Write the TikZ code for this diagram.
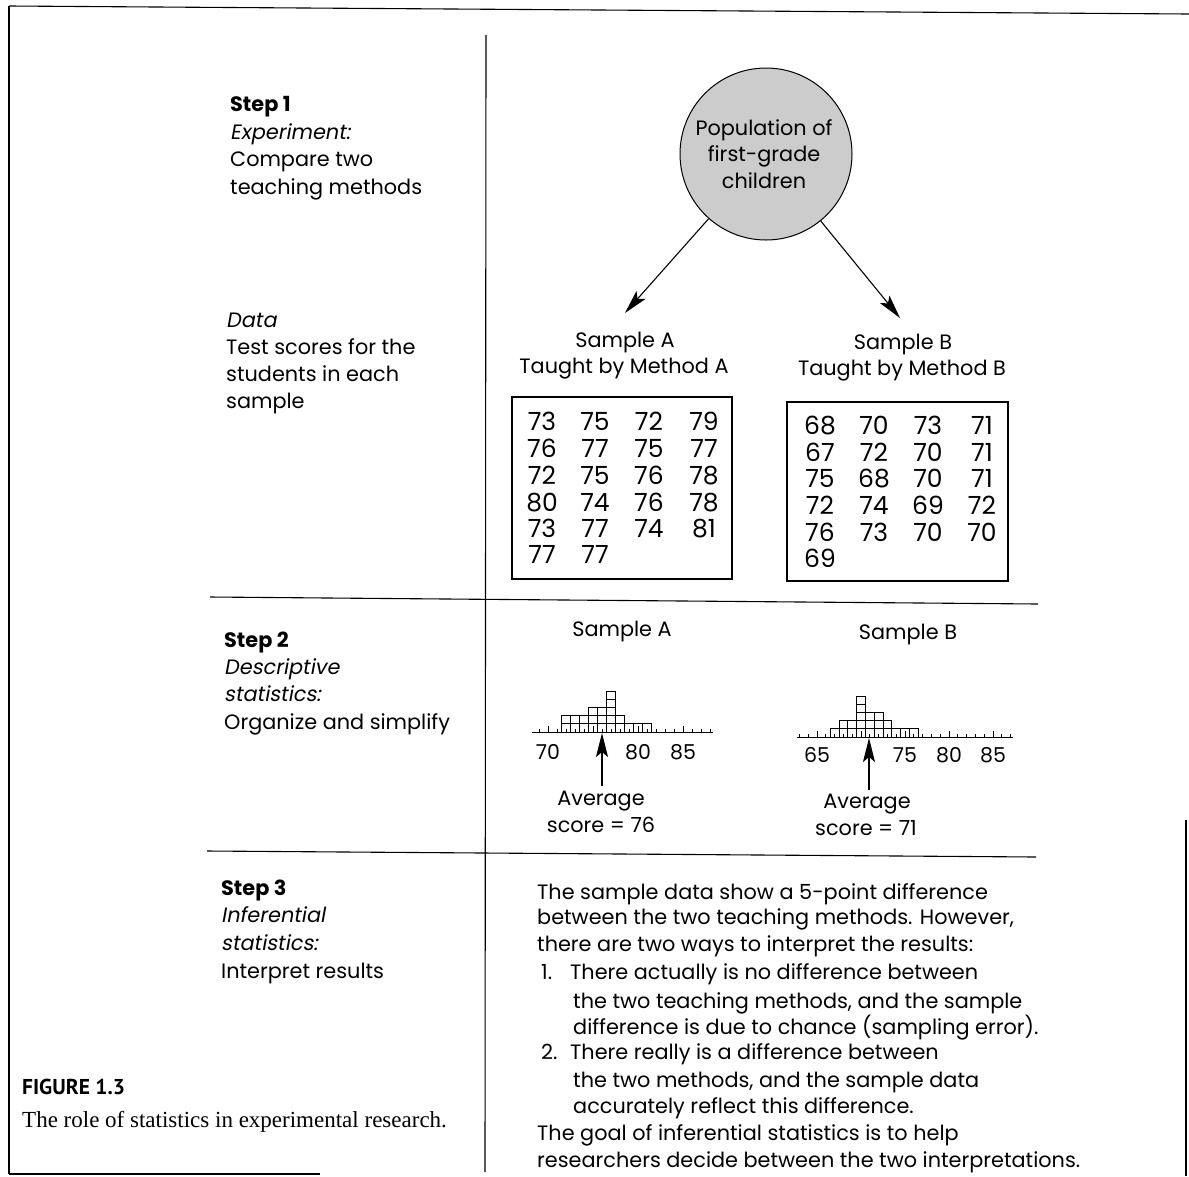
\documentclass[tikz,border=0pt]{standalone}
\usepackage{fontspec}
\setmainfont{Poppins}[ItalicFont=Poppins,ItalicFeatures={FakeSlant=0.18}]
\newfontfamily\capfont{PT Sans}
\newfontfamily\serfont{Liberation Serif}
\usetikzlibrary{arrows.meta}
\begin{document}
\begin{tikzpicture}[x=1pt,y=-1pt,
  txt/.style={anchor=base west,inner sep=0pt,font=\fontsize{20.8}{27}\selectfont},
  ctr/.style={anchor=base,inner sep=0pt,font=\fontsize{20.8}{27}\selectfont},
  num/.style={anchor=base,inner sep=0pt,font=\fontsize{25}{25}\selectfont},
  tick/.style={anchor=base,inner sep=0pt,font=\fontsize{20.5}{20}\selectfont},
  rule/.style={line width=1.1pt},
  hbox/.style={line width=0.8pt},
  arr/.style={line width=1.1pt,-{Stealth[length=24pt,width=12pt,inset=5pt]}}]
\useasboundingbox (0,0) rectangle (1189,1176);
% frame
\draw[rule] (9,6) -- (1189,14);
\draw[rule] (9,6) -- (9,1174);
\draw[rule] (9,1174) -- (320,1174);
\draw[rule] (1186,820) -- (1186,1176);
% dividers
\draw[rule] (486,35) -- (485,1172);
\draw[rule] (210,597) -- (1038,604);
\draw[rule] (207,851) -- (1036,857);
% left column
\node[txt] (s1) at (230,111) {\bfseries Step 1};
\node[txt] (s1a) at (230,139) {\itshape Experiment:};
\node[txt] (s1b) at (230,166) {Compare two};
\node[txt] (s1c) at (230,194) {teaching methods};
\node[txt] (d1) at (226,327) {\itshape Data};
\node[txt] (d2) at (226,354) {Test scores for the};
\node[txt] (d3) at (226,381) {students in each};
\node[txt] (d4) at (226,408) {sample};
\node[txt] (s2) at (224,647) {\bfseries Step 2};
\node[txt] (s2a) at (224,674) {\itshape Descriptive};
\node[txt] (s2b) at (224,701) {\itshape statistics:};
\node[txt] (s2c) at (224,729) {Organize and simplify};
\node[txt] (s3) at (221,895) {\bfseries Step 3};
\node[txt] (s3a) at (221,922) {\itshape Inferential};
\node[txt] (s3b) at (221,950) {\itshape statistics:};
\node[txt] (s3c) at (221,978) {Interpret results};
% population
\node[circle,draw,line width=1pt,fill=gray!40,minimum size=172pt,inner sep=0pt] (pop) at (766,154) {};
\node[ctr] (p1) at (764,135) {Population of};
\node[ctr] (p2) at (764,161) {first-grade};
\node[ctr] (p3) at (764,188) {children};
\coordinate (tipA) at (625,313);
\coordinate (tipB) at (900,318);
\draw[arr] (pop) -- (tipA);
\draw[arr] (pop) -- (tipB);
\node[ctr] (sa1) at (625,347) {Sample A};
\node[ctr] (sa2) at (624,373) {Taught by Method A};
\node[ctr] (sb1) at (903,349) {Sample B};
\node[ctr] (sb2) at (902,375) {Taught by Method B};
% data boxes
\draw[rule] (512,397) rectangle (732,579);
\draw[rule] (787,402) rectangle (1008,581);
\foreach \r/\y in {1/430,2/457,3/484,4/511,5/537,6/563}{
  \foreach \c/\x in {1/542,2/595,3/649,4/704}{
    \coordinate (a\r\c) at (\x,\y);
  }
}
\foreach \r/\y in {1/434,2/461,3/487,4/514,5/541,6/567}{
  \foreach \c/\x in {1/820,2/874,3/928,4/982}{
    \coordinate (b\r\c) at (\x,\y);
  }
}
\foreach \p/\t in {11/73,12/75,13/72,14/79,21/76,22/77,23/75,24/77,31/72,32/75,33/76,34/78,41/80,42/74,43/76,44/78,51/73,52/77,53/74,54/81,61/77,62/77}{
  \node[num] (na\p) at (a\p) {\t};
}
\foreach \p/\t in {11/68,12/70,13/73,14/71,21/67,22/72,23/70,24/71,31/75,32/68,33/70,34/71,41/72,42/74,43/69,44/72,51/76,52/73,53/70,54/70,61/69}{
  \node[num] (nb\p) at (b\p) {\t};
}
% histograms
\node[ctr] (ha) at (622,636) {Sample A};
\node[ctr] (hb) at (908,639) {Sample B};
\foreach \v/\n in {72/2,73/2,74/2,75/3,76/3,77/5,78/2,79/1,80/1,81/1}{
  \foreach \k in {1,...,\n}{
    \draw[hbox] ({548+(\v-70)*9-4.5},{732-(\k-1)*8.2}) rectangle ++(9,-8.2);
  }
}
\draw[hbox] (532,732) -- (713,732);
\foreach \v in {69,...,88}{
  \draw[hbox] ({548+(\v-70)*9},732) -- ++(0,-3);
}
\foreach \v in {70,75,80,85}{
  \draw[hbox] ({548+(\v-70)*9},732) -- ++(0,-6);
}
\node[tick] (ta1) at (548,759) {70};
\node[tick] (ta2) at (638,759) {80};
\node[tick] (ta3) at (683,759) {85};
\foreach \v/\n in {67/1,68/2,69/2,70/5,71/3,72/3,73/2,74/1,75/1,76/1}{
  \foreach \k in {1,...,\n}{
    \draw[hbox] ({817+(\v-65)*8.8-4.4},{737-(\k-1)*8.2}) rectangle ++(8.8,-8.2);
  }
}
\draw[hbox] (797,737) -- (1013,737);
\foreach \v in {63,...,87}{
  \draw[hbox] ({817+(\v-65)*8.8},737) -- ++(0,-3);
}
\foreach \v in {65,70,75,80,85}{
  \draw[hbox] ({817+(\v-65)*8.8},737) -- ++(0,-6);
}
\node[tick] (tb1) at (817,762) {65};
\node[tick] (tb2) at (905,762) {75};
\node[tick] (tb3) at (949,762) {80};
\node[tick] (tb4) at (993,762) {85};
\coordinate (avA0) at (602,786);
\coordinate (avA1) at (602,733);
\coordinate (avB0) at (869,790);
\coordinate (avB1) at (869,738);
\draw[arr] (avA0) -- (avA1);
\draw[arr] (avB0) -- (avB1);
\node[ctr] (aa1) at (601,805) {Average};
\node[ctr] (aa2) at (601,832) {score = 76};
\node[ctr] (ab1) at (867,808) {Average};
\node[ctr] (ab2) at (866,835) {score = 71};
% step 3 text
\node[txt] (t1) at (537,899) {The sample data show a 5-point difference};
\node[txt] (t2) at (537,924) {between the two teaching methods. However,};
\node[txt] (t3) at (537,951) {there are two ways to interpret the results:};
\node[txt] (t4n) at (541,979) {1.};
\node[txt] (t4) at (570,979) {There actually is no difference between};
\node[txt] (t5) at (573,1008) {the two teaching methods, and the sample};
\node[txt] (t6) at (573,1034) {difference is due to chance (sampling error).};
\node[txt] (t7n) at (541,1059) {2.};
\node[txt] (t7) at (570,1059) {There really is a difference between};
\node[txt] (t8) at (573,1087) {the two methods, and the sample data};
\node[txt] (t9) at (573,1113) {accurately reflect this difference.};
\node[txt] (t10) at (537,1140) {The goal of inferential statistics is to help};
\node[txt] (t11) at (537,1167) {researchers decide between the two interpretations.};
% caption
\node[anchor=base west,inner sep=0pt,font=\capfont\bfseries\fontsize{21.5}{21}\selectfont] (fig) at (22,1094) {FIGURE 1.3};
\node[anchor=base west,inner sep=0pt,font=\serfont\fontsize{23}{23}\selectfont] (cap) at (22,1127) {The role of statistics in experimental research.};
\end{tikzpicture}
\end{document}
